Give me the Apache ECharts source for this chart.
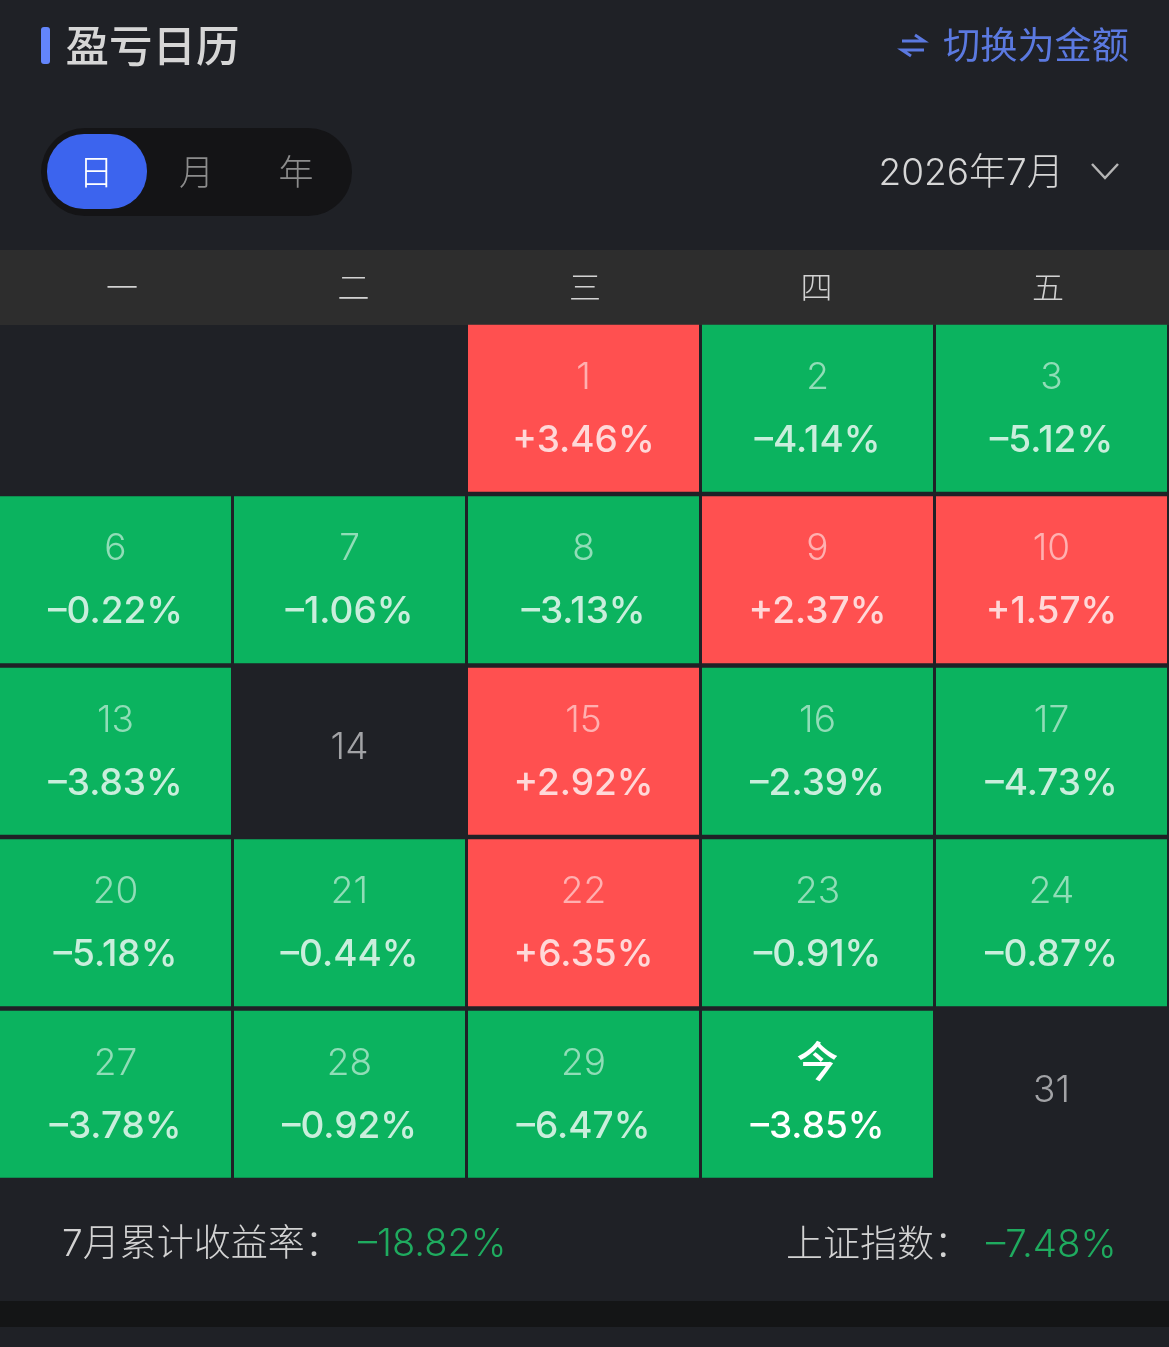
<!DOCTYPE html>
<html>
<head>
<meta charset="utf-8">
<script src="https://cdn.jsdelivr.net/npm/echarts@6/dist/echarts.min.js"></script>
<style>
  html, body { margin: 0; padding: 0; background: #1f2126; overflow: hidden; }
  /* a little wider than the window: the last cell column needs the room */
  #chart { width: 1172px; height: 1347px; }
</style>
</head>
<body>
<div id="chart"></div>
<script>
  const weekdays = ['一', '二', '三', '四', '五']
  const weeks = ['w1', 'w2', 'w3', 'w4', 'w5']
  const dayLabels = [
    '', '', '1', '2', '3',
    '6', '7', '8', '9', '10',
    '13', '14', '15', '16', '17',
    '20', '21', '22', '23', '24',
    '27', '28', '29', '今', '31'
  ]
  const returns = [
    null, null, 3.46, -4.14, -5.12,
    -0.22, -1.06, -3.13, 2.37, 1.57,
    -3.83, null, 2.92, -2.39, -4.73,
    -5.18, -0.44, 6.35, -0.91, -0.87,
    -3.78, -0.92, -6.47, -3.85, null
  ]
  const monthTotal = '–18.82%'
  const indexTotal = '–7.48%'

  const CJK = '"Noto Sans CJK SC", sans-serif'
  const NUM = 'Inter, "Noto Sans CJK SC", sans-serif'
  const UP = '#ff5050'
  const DOWN = '#0bb35f'

  const cells = returns.map((v, i) => [i % 5, Math.floor(i / 5), v, dayLabels[i]])

  function formatRate(v) {
    return (v > 0 ? '+' : '–') + Math.abs(v).toFixed(2) + '%'
  }

  function renderCell(params, api) {
    const center = api.coord([api.value(0), api.value(1)])
    const size = api.size([1, 1])
    const rate = cells[params.dataIndex][2]
    const label = cells[params.dataIndex][3]
    const w = size[0] - 3
    const h = size[1] - 4.5
    // negative grid left gets clamped, so the -1.5 page offset is applied here
    const cx = center[0] - 1.5
    if (rate === null) {
      return {
        type: 'text',
        style: {
          text: label, x: cx, y: center[1] - 3.5, align: 'center', verticalAlign: 'middle',
          font: '300 37px ' + NUM, fill: '#a2a3a6'
        }
      }
    }
    const isToday = label === '今'
    return {
      type: 'group',
      children: [
        {
          type: 'rect',
          shape: { x: cx - w / 2, y: center[1] - h / 2, width: w, height: h },
          style: { fill: rate > 0 ? UP : DOWN }
        },
        {
          type: 'text',
          style: {
            text: label, x: cx, y: center[1] - (isToday ? 33 : 30.5), align: 'center', verticalAlign: 'middle',
            font: isToday ? '500 42px ' + CJK : '300 37px ' + NUM,
            fill: isToday ? '#ffffff' : 'rgba(255,255,255,0.55)'
          }
        },
        {
          type: 'text',
          style: {
            text: formatRate(rate), x: cx, y: center[1] + 32.5, align: 'center', verticalAlign: 'middle',
            font: '450 37px ' + NUM,
            fill: isToday ? '#ffffff' : 'rgba(255,255,255,0.78)'
          }
        }
      ]
    }
  }

  function label(text, x, y, size, color, opts) {
    return {
      type: 'text',
      style: Object.assign({
        text, x, y, font: (opts && opts.weight || 400) + ' ' + size + 'px ' + (opts && opts.family || CJK),
        fill: color, align: 'left', verticalAlign: 'middle'
      }, opts && opts.style)
    }
  }

  const myChart = echarts.init(document.getElementById('chart'))
  myChart.setOption({
    animation: false,
    backgroundColor: '#1f2126',
    grid: [
      { left: 0, top: 322.5, width: 1170, height: 857.5 },
      { left: 6.25, top: 250, width: 1157.5, height: 75 }
    ],
    xAxis: [
      { type: 'category', gridIndex: 0, data: weekdays, show: false },
      {
        type: 'category', gridIndex: 1, data: weekdays, position: 'top',
        axisLine: { show: false }, axisTick: { show: false },
        axisLabel: { inside: true, margin: 21, fontSize: 32, fontWeight: 300, color: '#d2d2d2', fontFamily: CJK }
      }
    ],
    yAxis: [
      { type: 'category', gridIndex: 0, data: weeks, inverse: true, show: false },
      { type: 'value', gridIndex: 1, show: false }
    ],
    graphic: [
      // bands behind the chart
      { type: 'rect', z: -1, shape: { x: 0, y: 250, width: 1172, height: 75 }, style: { fill: '#2d2d2d' } },
      { type: 'rect', z: -1, shape: { x: 0, y: 1301, width: 1172, height: 26 }, style: { fill: '#141516' } },
      // title
      { type: 'rect', shape: { x: 41, y: 27, width: 9, height: 37, r: 3 }, style: { fill: '#6385fb' } },
      label('盈亏日历', 65.5, 45, 43.5, '#d6d6d6', { weight: 500 }),
      // switch link
      { type: 'polyline', shape: { points: [[902, 41], [924, 41], [915, 35]] }, style: { stroke: '#5b79e0', lineWidth: 3, fill: null } },
      { type: 'polyline', shape: { points: [[924, 50], [902, 50], [911, 56]] }, style: { stroke: '#5b79e0', lineWidth: 3, fill: null } },
      label('切换为金额', 943, 45, 37.2, '#5b79e0'),
      // day / month / year pill
      { type: 'rect', shape: { x: 41, y: 128, width: 311, height: 88, r: 44 }, style: { fill: '#141416' } },
      { type: 'rect', shape: { x: 47, y: 134, width: 100, height: 75, r: 37 }, style: { fill: '#3c64ee' } },
      label('日', 96, 172, 35, '#ffffff', { weight: 300, style: { align: 'center' } }),
      label('月', 196.5, 172, 35, '#8c8c8c', { weight: 300, style: { align: 'center' } }),
      label('年', 296, 172, 35, '#8c8c8c', { weight: 300, style: { align: 'center' } }),
      // month picker
      label('2026年7月', 878.5, 174, 37, '#d6d6d6', { family: NUM, weight: 300 }),
      { type: 'polyline', shape: { points: [[1092, 164], [1105, 178], [1118, 164]] }, style: { stroke: '#b5b5b5', lineWidth: 2.5, fill: null } },
      // summary
      label('7月累计收益率：', 62, 1245, 37, '#d2d2d2', { family: NUM, weight: 300 }),
      label(monthTotal, 358, 1245, 38, '#1fab5f', { family: NUM, weight: 300 }),
      label('上证指数：', 786, 1243, 37, '#d2d2d2', { weight: 300 }),
      label(indexTotal, 986, 1245, 38.5, '#1fab5f', { family: NUM, weight: 300 })
    ],
    series: [
      {
        type: 'custom',
        xAxisIndex: 0,
        yAxisIndex: 0,
        coordinateSystem: 'cartesian2d',
        renderItem: renderCell,
        clip: false,
        silent: true,
        data: cells.map(c => [c[0], c[1]])
      }
    ]
  })

  window.onresize = () => myChart.resize()
</script>
</body>
</html>
